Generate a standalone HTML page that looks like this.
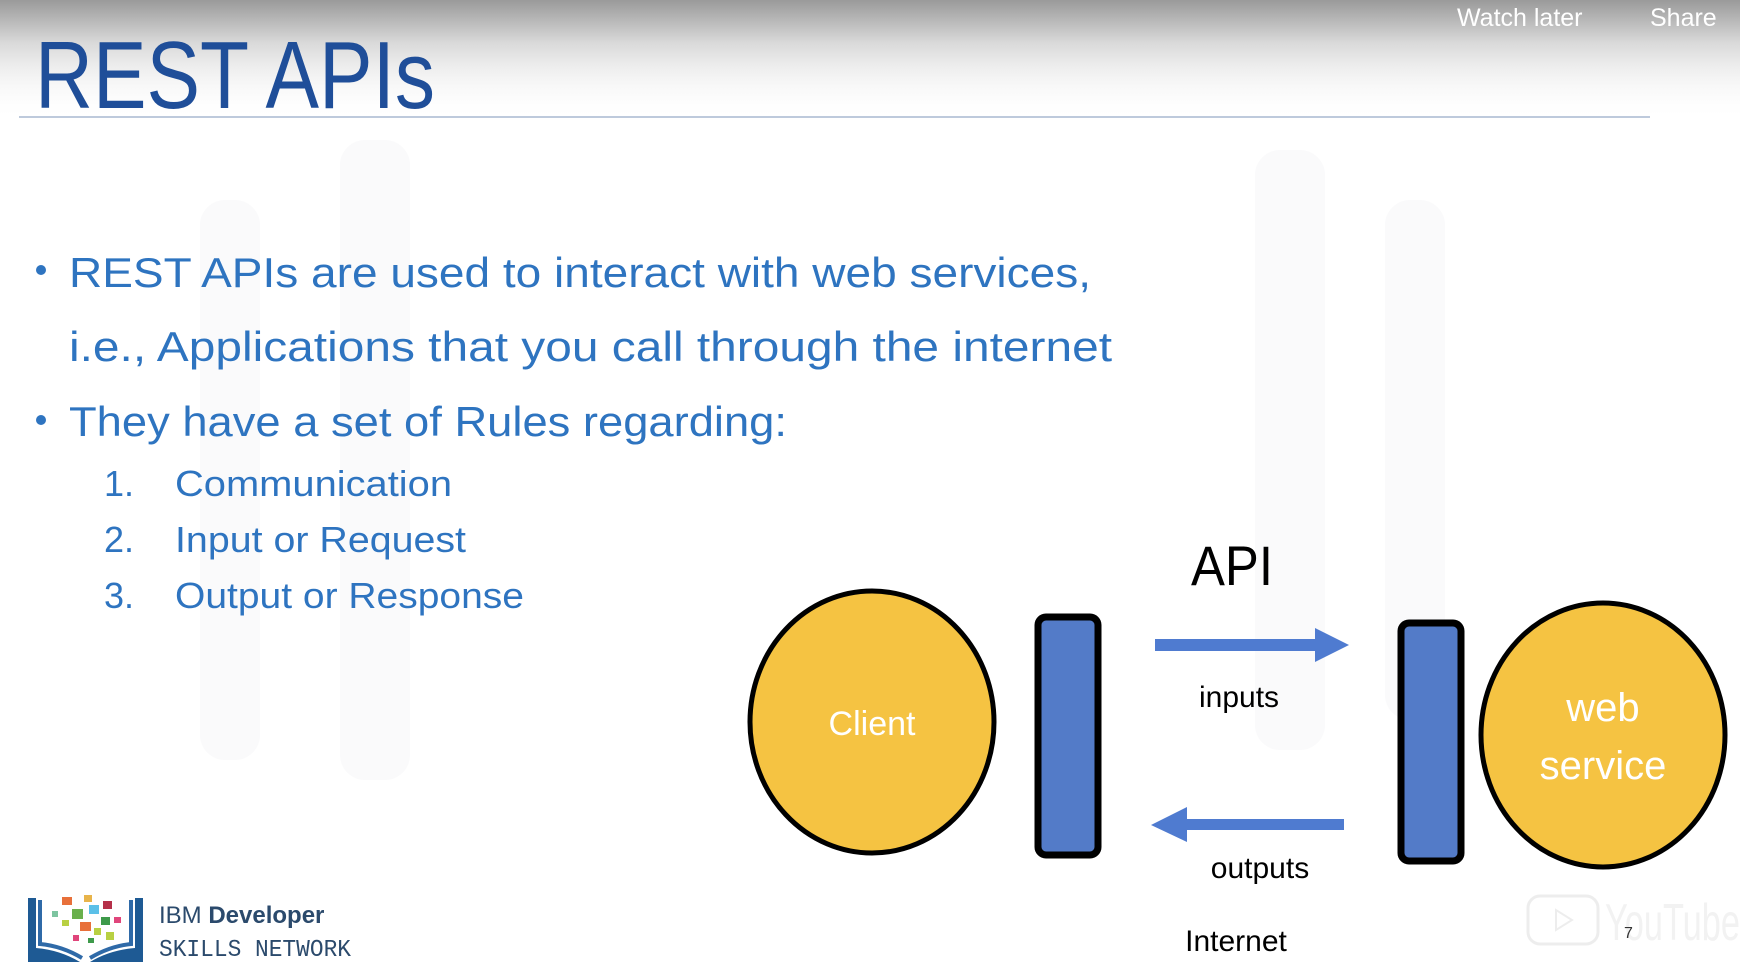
<!DOCTYPE html>
<html><head><meta charset="utf-8"><style>
html,body{margin:0;padding:0;background:#fff;}
svg{display:block;}
</style></head><body>
<svg width="1740" height="964" viewBox="0 0 1740 964" xmlns="http://www.w3.org/2000/svg">
<defs>
<linearGradient id="tg" x1="0" y1="0" x2="0" y2="1">
<stop offset="0" stop-color="#9a9a9a"/><stop offset="0.35" stop-color="#d8d8d8"/><stop offset="1" stop-color="#ffffff" stop-opacity="0"/>
</linearGradient>
</defs>
<rect width="1740" height="964" fill="#fff"/>
<g fill="#fafafb">
<rect x="200" y="200" width="60" height="560" rx="25"/>
<rect x="340" y="140" width="70" height="640" rx="25"/>
<rect x="1255" y="150" width="70" height="600" rx="25"/>
<rect x="1385" y="200" width="60" height="520" rx="25"/>
</g>
<rect width="1740" height="120" fill="url(#tg)"/>
<g font-family="Liberation Sans, sans-serif" font-size="25" fill="#fff">
<text x="1457" y="26">Watch later</text>
<text x="1650" y="26">Share</text>
</g>
<text x="35" y="108" font-family="Liberation Sans, sans-serif" font-size="96" fill="#1f4e99" textLength="400" lengthAdjust="spacingAndGlyphs">REST APIs</text>
<line x1="19" y1="117" x2="1650" y2="117" stroke="#a8b8d0" stroke-width="1.5"/>
<g font-family="Liberation Sans, sans-serif" fill="#2e74c0">
<circle cx="41" cy="270" r="5"/>
<circle cx="41" cy="420" r="5"/>
<text x="69" y="287" font-size="42" textLength="1022" lengthAdjust="spacingAndGlyphs">REST APIs are used to interact with  web services,</text>
<text x="69" y="361" font-size="42" textLength="1043" lengthAdjust="spacingAndGlyphs">i.e., Applications that you call through the internet</text>
<text x="69" y="436" font-size="42" textLength="718" lengthAdjust="spacingAndGlyphs">They have a set of Rules regarding:</text>
<text x="104" y="496" font-size="36">1.</text>
<text x="104" y="552" font-size="36">2.</text>
<text x="104" y="608" font-size="36">3.</text>
<text x="175" y="496" font-size="36" textLength="277" lengthAdjust="spacingAndGlyphs">Communication</text>
<text x="175" y="552" font-size="36" textLength="291" lengthAdjust="spacingAndGlyphs">Input or Request</text>
<text x="175" y="608" font-size="36" textLength="349" lengthAdjust="spacingAndGlyphs">Output or Response</text>
</g>
<ellipse cx="872" cy="722" rx="122" ry="131" fill="#f5c342" stroke="#000" stroke-width="5"/>
<ellipse cx="1603" cy="735" rx="122" ry="132" fill="#f5c342" stroke="#000" stroke-width="5"/>
<rect x="1038" y="617" width="60" height="238" rx="8" fill="#537bc8" stroke="#000" stroke-width="7"/>
<rect x="1401" y="623" width="60" height="238" rx="8" fill="#537bc8" stroke="#000" stroke-width="7"/>
<polygon points="1155,639 1315,639 1315,628 1349,645 1315,662 1315,651 1155,651" fill="#4f7bd0"/>
<polygon points="1344,819 1187,819 1187,807 1151,825 1187,842 1187,830 1344,830" fill="#4f7bd0"/>
<g font-family="Liberation Sans, sans-serif" fill="#000" text-anchor="middle">
<text x="1232" y="585" font-size="56" textLength="82" lengthAdjust="spacingAndGlyphs">API</text>
<text x="1239" y="707" font-size="30">inputs</text>
<text x="1260" y="878" font-size="30">outputs</text>
<text x="1236" y="951" font-size="30">Internet</text>
</g>
<g font-family="Liberation Sans, sans-serif" fill="#fff" text-anchor="middle">
<text x="872" y="735" font-size="34">Client</text>
<text x="1603" y="721" font-size="40">web</text>
<text x="1603" y="779" font-size="40">service</text>
</g>
<g>
<path d="M28 898 L28 962 L80 962 Q60 950 36 948 L36 898 Z" fill="#1e5a94"/>
<path d="M143 898 L143 962 L90 962 Q110 950 135 948 L135 898 Z" fill="#1e5a94"/>
<path d="M40 900 L40 944 Q62 946 82 958" fill="none" stroke="#2f6aa8" stroke-width="4"/>
<path d="M131 900 L131 944 Q110 946 90 958" fill="none" stroke="#2f6aa8" stroke-width="4"/>
<rect x="62" y="897" width="10" height="8" fill="#e8703a"/>
<rect x="84" y="895" width="8" height="7" fill="#e8b44a"/>
<rect x="103" y="901" width="9" height="8" fill="#b53049"/>
<rect x="72" y="909" width="11" height="10" fill="#6ab04c"/>
<rect x="89" y="905" width="10" height="9" fill="#5bc0e8"/>
<rect x="52" y="911" width="6" height="6" fill="#7dc4a0"/>
<rect x="101" y="917" width="9" height="8" fill="#3e9a4a"/>
<rect x="114" y="917" width="7" height="6" fill="#e0457b"/>
<rect x="80" y="922" width="11" height="9" fill="#e8703a"/>
<rect x="62" y="920" width="7" height="6" fill="#b8d042"/>
<rect x="94" y="928" width="7" height="7" fill="#b8d042"/>
<rect x="106" y="932" width="8" height="8" fill="#b8d042"/>
<rect x="73" y="935" width="6" height="6" fill="#e0457b"/>
<rect x="88" y="938" width="6" height="5" fill="#3e9a4a"/>
</g>
<text x="159" y="923" font-family="Liberation Sans, sans-serif" font-size="24" fill="#2b4a6c">IBM <tspan font-weight="bold">Developer</tspan></text>
<text x="159" y="956" font-family="Liberation Mono, monospace" font-size="24" fill="#2b4a6c" textLength="192" lengthAdjust="spacingAndGlyphs">SKILLS NETWORK</text>
<g opacity="0.25">
<rect x="1528" y="896" width="70" height="48" rx="12" fill="none" stroke="#bbb" stroke-width="3"/>
<polygon points="1556,910 1556,930 1572,920" fill="none" stroke="#bbb" stroke-width="2"/>
<text x="1605" y="940" font-family="Liberation Sans, sans-serif" font-size="52" fill="#ccc" textLength="135" lengthAdjust="spacingAndGlyphs">YouTube</text>
</g>
<text x="1624" y="938" font-family="Liberation Sans, sans-serif" font-size="16" fill="#333">7</text>
</svg>
</body></html>
